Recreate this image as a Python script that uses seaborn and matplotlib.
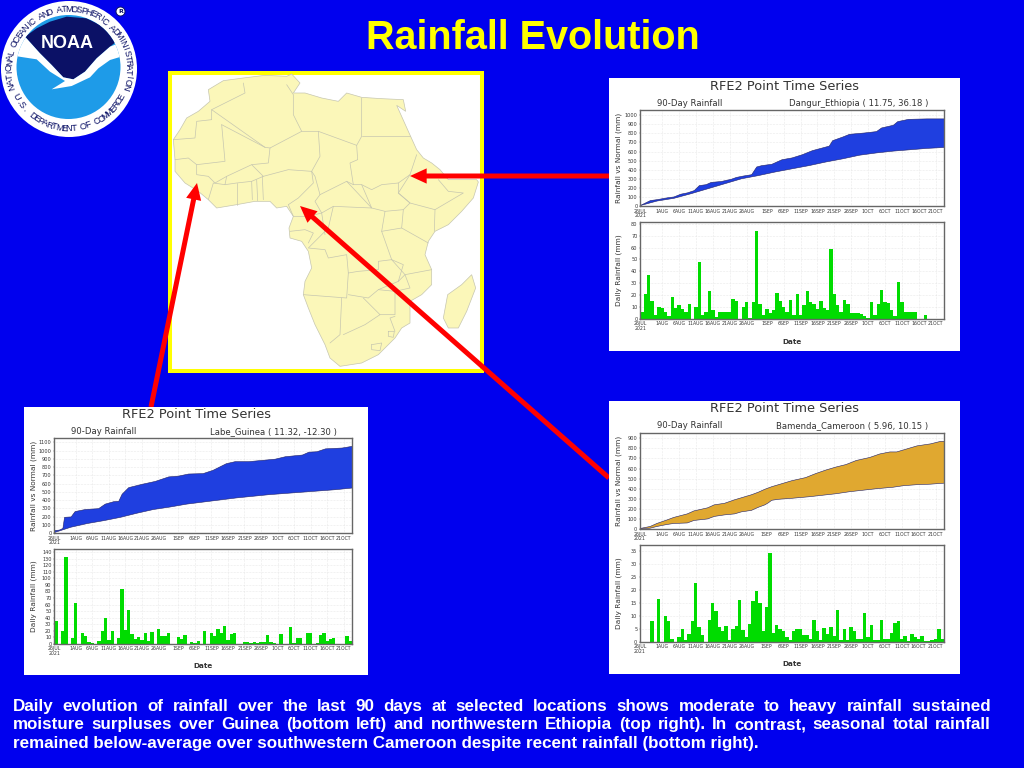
import numpy as np
import matplotlib
matplotlib.use('Agg')
import matplotlib.pyplot as plt
from matplotlib.patches import Circle, Polygon, Rectangle
import seaborn as sns

# daily rainfall, 26 Jul - 23 Oct 2021
eth_daily = [6, 21, 37, 15, 3, 10, 9, 5.5, 2, 18, 9, 11.5, 8, 5.5, 12, 0, 10, 48, 3, 5.5,
             23, 7, 1.5, 5.5, 5.5, 5.5, 5.5, 16.5, 15, 0, 9.5, 14, 1, 14, 74, 12.5, 3, 8, 4.5, 7.5,
             21.5, 15, 10, 6, 16, 3, 21, 3.5, 11.5, 23, 14, 12, 8, 15, 9, 7, 59, 21, 11.5, 5.5,
             16, 12, 5, 4.5, 4.5, 4, 2, 1, 14, 3.5, 12.5, 24.5, 14, 13, 7.5, 2, 31, 14, 6, 6,
             6, 6, 0, 0, 3, 0, 0, 0, 0, 0]
gui_daily = [35, 0, 20, 132, 0, 8, 63, 0, 17, 12, 2, 1, 0, 4, 19, 40, 5, 19, 0, 8,
             83, 21, 52, 15, 7, 11, 6, 16, 4, 18, 0, 22, 12, 12, 17, 0, 0, 11, 7, 13,
             0, 2, 1, 4, 0, 19, 0, 16, 12, 22, 17, 27, 6, 15, 16, 0, 0, 2, 3, 1,
             3, 1, 2, 2, 14, 3, 1, 0, 15, 0, 0, 25, 1, 8, 8, 0, 16, 17, 0, 1,
             14, 17, 4, 7, 8, 0, 0, 0, 12, 4]
cam_daily = [0, 0, 0, 7.8, 0, 16.5, 0, 10, 8, 1, 0, 2, 5, 0.5, 3, 8, 22.7, 5.5, 2.7, 0,
             8.5, 15, 12, 5.5, 4, 6, 0.5, 5, 6.2, 16, 4.5, 2, 6.8, 15.8, 19.5, 15, 4, 13.2, 34, 3.3,
             6.3, 5, 4.3, 2, 0.5, 4.3, 4.7, 5, 2.7, 2.7, 1, 8.5, 4.2, 0.5, 5.2, 3, 5.8, 2.3, 12.2, 0.5,
             5, 0.5, 5.8, 4.2, 1, 1, 11.2, 2, 6.5, 0.5, 0.5, 8.5, 1, 1, 3.2, 7.2, 7.8, 1, 2.2, 0.3,
             3, 2, 1, 2.2, 0.3, 0.3, 0.5, 1, 5, 1]

# accumulated rainfall and normal, read at the days where the curves bend
eth_rain_x = [0, 3, 5, 8, 10, 12, 14, 16, 17.5, 19.5, 21, 24, 27, 28.5, 30.5, 33, 34.5, 36, 39, 42, 45,
              48, 51, 54, 56, 57, 60, 62, 66.5, 70, 71.5, 75, 76.3, 79.5, 85, 90]
eth_rain_y = [5, 60, 70, 90, 100, 130, 145, 170, 225, 235, 260, 270, 295, 315, 330, 345, 430, 445, 460, 510, 530,
              565, 610, 640, 660, 720, 760, 790, 805, 820, 860, 890, 930, 955, 960, 960]
eth_norm_x = [0, 5, 10, 15, 20, 25, 30, 35, 40, 45, 50, 55, 60, 65, 70, 75, 80, 85, 90]
eth_norm_y = [5, 55, 85, 135, 190, 245, 300, 335, 375, 410, 445, 485, 520, 560, 585, 605, 620, 635, 645]

gui_rain_x = [0, 1.5, 2.6, 3.1, 5.1, 6.3, 9.4, 13.4, 15.4, 18, 19.5, 20.5, 22.5, 26.5, 30.5, 34.6, 37.6, 40.6, 45,
              48, 52, 54.7, 58.8, 62.8, 66.8, 69.9, 75, 77, 79.4, 82, 87, 90]
gui_rain_y = [30, 35, 55, 190, 195, 260, 285, 295, 350, 380, 385, 470, 550, 590, 625, 680, 690, 715, 720,
              760, 840, 865, 865, 880, 895, 925, 945, 980, 985, 1020, 1030, 1050]
gui_norm_x = [0, 5, 10, 15, 20, 25, 30, 35, 40, 45, 50, 55, 60, 65, 70, 75, 80, 85, 90]
gui_norm_y = [5, 70, 115, 150, 190, 240, 285, 315, 350, 375, 400, 425, 445, 465, 480, 495, 510, 525, 545]

cam_rain_x = [0, 3, 5, 8, 10, 14, 16, 20, 22, 25, 28, 30, 33, 35, 37, 39, 42, 45, 49, 52, 55, 58, 61, 64, 68,
              71, 74, 76, 79, 82, 86, 89, 90]
cam_rain_y = [5, 25, 55, 90, 115, 150, 180, 210, 240, 255, 290, 310, 340, 365, 395, 420, 450, 480, 510, 550, 585,
              615, 640, 680, 710, 745, 765, 765, 795, 825, 845, 870, 870]
cam_norm_x = [0, 3, 5, 8, 10, 14, 16, 20, 22, 25, 28, 30, 33, 35, 37, 38, 39, 41, 45, 50, 54, 58, 62, 66, 70,
              75, 78, 82, 86, 90]
cam_norm_y = [2, 8, 25, 45, 55, 60, 85, 100, 125, 140, 150, 170, 185, 215, 240, 260, 285, 295, 305, 320, 335,
              350, 370, 385, 400, 415, 430, 440, 445, 455]

tick_days = [0, 6, 11, 16, 21, 26, 31, 37, 42, 47, 52, 57, 62, 67, 72, 77, 82, 87]
tick_names = ['26JUL\n2021', '1AUG', '6AUG', '11AUG', '16AUG', '21AUG', '26AUG', '1SEP', '6SEP', '11SEP',
              '16SEP', '21SEP', '26SEP', '1OCT', '6OCT', '11OCT', '16OCT', '21OCT']

footer_lines = ['Daily evolution of rainfall over the last 90 days at selected locations shows moderate to heavy rainfall sustained',
                'moisture surpluses over Guinea (bottom left) and northwestern Ethiopia (top right). In contrast, seasonal total rainfall',
                'remained below-average over southwestern Cameroon despite recent rainfall (bottom right).']

# map shapes, in 3x pixels of the map frame
africa = [(175, 38), (235, 30), (300, 22), (365, 25), (380, 18), (405, 45), (385, 75), (420, 75), (470, 90), (520, 100),
          (545, 75), (590, 88), (650, 92), (715, 95), (722, 130), (695, 112), (730, 190), (755, 245), (775, 270),
          (800, 285), (825, 305), (850, 335), (935, 335), (940, 342), (925, 390), (890, 430), (850, 470), (810, 490),
          (790, 520), (780, 560), (800, 605), (800, 650), (770, 680), (735, 700), (735, 765), (710, 780), (690, 810),
          (640, 860), (590, 885), (525, 895), (495, 870), (480, 830), (450, 770), (430, 720), (415, 680), (420, 640),
          (440, 600), (430, 550), (410, 520), (375, 510), (372, 480), (385, 445), (365, 415), (335, 420), (315, 400),
          (270, 400), (215, 410), (155, 420), (130, 395), (100, 370), (60, 345), (30, 310), (30, 275), (25, 215),
          (45, 185), (65, 150), (100, 130), (135, 100), (130, 65)]
madagascar = [(920, 620), (932, 660), (905, 730), (880, 780), (850, 780), (835, 750), (848, 680), (890, 650)]
borders = [
    [(235, 45), (240, 75), (140, 125), (140, 155)],
    [(140, 125), (300, 238), (315, 240), (410, 190), (385, 140), (385, 80), (365, 50)],
    [(410, 190), (460, 190), (575, 232), (590, 205), (590, 90)],
    [(590, 205), (735, 205)],
    [(575, 232), (578, 275), (555, 285), (565, 350), (590, 350), (620, 365), (650, 350), (700, 345), (735, 320), (755, 260)],
    [(460, 190), (465, 265), (440, 310), (450, 325), (465, 380), (545, 340), (565, 350)],
    [(315, 240), (310, 285), (260, 290), (295, 325), (370, 305), (440, 310)],
    [(25, 215), (90, 210), (95, 160), (140, 155)],
    [(170, 170), (180, 280), (95, 290), (70, 270), (30, 275)],
    [(170, 170), (300, 238)],
    [(260, 290), (185, 325), (150, 345), (130, 325), (95, 320), (95, 290)],
    [(185, 325), (180, 350), (145, 345), (130, 395)],
    [(180, 350), (215, 345), (260, 340), (295, 325)],
    [(215, 345), (215, 410)], [(260, 340), (262, 395)], [(275, 335), (278, 398)], [(292, 325), (295, 395)],
    [(440, 310), (445, 345), (400, 390), (370, 410)],
    [(370, 410), (385, 445), (430, 445), (470, 435), (450, 400), (465, 380)],
    [(545, 340), (620, 420), (505, 415), (470, 435)],
    [(590, 350), (620, 420), (660, 430), (715, 425), (735, 405), (700, 375), (700, 345)],
    [(735, 320), (700, 375), (735, 405), (810, 425), (895, 375), (850, 370), (820, 335)],
    [(810, 425), (808, 490)],
    [(715, 425), (710, 480), (790, 525)],
    [(505, 415), (490, 480), (430, 540), (480, 545), (490, 570), (545, 560), (550, 615), (580, 610), (640, 605), (640, 580), (680, 575), (650, 490), (660, 430)],
    [(470, 435), (480, 500)],
    [(375, 490), (420, 485), (445, 495), (430, 525)],
    [(415, 680), (545, 690), (550, 615)],
    [(550, 680), (610, 690), (640, 665), (700, 640), (715, 590), (680, 575)],
    [(650, 490), (710, 480)],
    [(800, 605), (720, 620), (680, 575)],
    [(530, 690), (525, 800), (495, 825)],
    [(595, 690), (645, 740), (600, 770), (535, 800)],
    [(640, 665), (690, 670), (690, 740), (645, 740)],
    [(700, 640), (720, 620), (735, 660), (690, 670)],
    [(690, 745), (675, 750), (690, 790)],
    [(620, 830), (650, 825), (645, 848), (620, 845), (620, 830)],
    [(670, 790), (688, 790), (685, 808), (670, 805), (670, 790)],
]

# logo shapes, in 3x pixels
navy_shape = [(75, 110), (110, 85), (150, 65), (200, 50), (260, 55), (320, 85), (355, 120), (330, 140), (290, 175),
              (255, 215), (220, 238), (190, 232), (155, 195), (120, 160)]
gull_shape = [(30, 150), (75, 110), (120, 160), (155, 195), (190, 232), (220, 238), (255, 215), (290, 175), (330, 140),
              (380, 120), (380, 165), (330, 180), (295, 205), (270, 232), (215, 258), (155, 268), (195, 243),
              (150, 215), (110, 178), (45, 168)]

BLUE_BG = '#0000EE'
W, H = 1024, 768

sns.set_style('white')
plt.rcParams['font.family'] = ['DejaVu Sans']

fig = plt.figure(figsize=(W / 100, H / 100), dpi=100, facecolor=BLUE_BG)
bg = fig.add_axes([0, 0, 1, 1], zorder=0)
bg.set_xlim(0, W)
bg.set_ylim(H, 0)
bg.axis('off')


def map_pt(p):
    return (165 + p[0] / 3, 68 + p[1] / 3)


def logo_pt(p):
    return (p[0] / 3, p[1] / 3)


# title
bg.text(533, 38, 'Rainfall Evolution', color='#FFFF00', fontsize=28.5, fontweight='bold',
        family='Liberation Sans', ha='center', va='center')

# NOAA logo
bg.add_patch(Circle((69, 69), 68, fc='white', ec='none'))
inner = Circle((68.5, 67), 52, fc='#1E9BE8', ec='none')
bg.add_patch(inner)
navy = Polygon([logo_pt(p) for p in navy_shape], fc='#0B1166', ec='none')
bg.add_patch(navy)
navy.set_clip_path(inner)
gull = Polygon([logo_pt(p) for p in gull_shape], fc='white', ec='none')
bg.add_patch(gull)
gull.set_clip_path(inner)
bg.text(67, 43, 'NOAA', color='white', fontsize=13, fontweight='bold', family='Liberation Sans',
        ha='center', va='center')


def ring_text(s, a0, a1, bottom=False):
    for ch, a in zip(s, np.linspace(a0, a1, len(s))):
        r = np.radians(a)
        rot = a + 90 if bottom else a - 90
        bg.text(69 + 59.5 * np.cos(r), 69 - 59.5 * np.sin(r), ch, color='#0B1166', fontsize=6.5,
                family='Liberation Sans', rotation=rot, rotation_mode='anchor', ha='center', va='center')


ring_text('NATIONAL OCEANIC AND ATMOSPHERIC ADMINISTRATION', 197, -17)
ring_text('U.S. DEPARTMENT OF COMMERCE', 208, 332, bottom=True)
bg.add_patch(Circle((120.5, 11.5), 4.5, fc='white', ec='#0B1166', lw=0.7))
bg.text(120.5, 11.5, 'R', color='#0B1166', fontsize=4.5, fontweight='bold', ha='center', va='center')

# map
bg.add_patch(Rectangle((170, 73), 312, 298, fc='white', ec='#FFFF00', lw=2.9))
bg.add_patch(Polygon([map_pt(p) for p in africa], fc='#FBF7B9', ec='#C6C6B0', lw=0.5))
bg.add_patch(Polygon([map_pt(p) for p in madagascar], fc='#FBF7B9', ec='#C6C6B0', lw=0.5))
for line in borders:
    bg.plot(*zip(*[map_pt(p) for p in line]), color='#C6C6B0', lw=0.5)

# arrows
for tail, tip in [((609, 176), (410, 176)), ((609, 478), (300, 206)), ((151, 407), (197, 183))]:
    bg.annotate('', xy=tip, xytext=tail,
                arrowprops=dict(facecolor='#FF0000', edgecolor='none', width=3.6, headwidth=11, headlength=12, shrink=0))


def px_axes(left, top, right, bottom):
    return fig.add_axes([left / W, 1 - bottom / H, (right - left) / W, (bottom - top) / H], zorder=2)


def style_axes(ax, yticks, ytop):
    ax.set_xlim(0, 90)
    ax.set_ylim(0, ytop)
    ax.set_xticks([d + 0.5 if d else 0 for d in tick_days])
    ax.set_xticklabels(tick_names, fontsize=3.3, linespacing=0.85, color='#333333')
    ax.set_yticks(yticks)
    ax.set_yticklabels([str(v) for v in yticks], fontsize=3.6, color='#333333')
    ax.tick_params(length=1, width=0.3, pad=1, color='#666666', bottom=True, left=True)
    ax.grid(True, color='#D8D8D8', ls=':', lw=0.4)
    ax.set_axisbelow(True)
    ax.set_xlabel('')
    ax.set_ylabel('')
    for sp in ax.spines.values():
        sp.set_visible(True)
        sp.set_color('#666666')
        sp.set_linewidth(1)


def draw_panel(box, top_y, bot_y, left, right, site, site_right, daily,
               rain_x, rain_y, norm_x, norm_y, band, top_ticks, top_lim, bot_ticks, bot_lim):
    x0, y0, x1, y1 = box
    bg.add_patch(Rectangle((x0, y0), x1 - x0, y1 - y0, fc='white', ec='none', zorder=5))

    ax = px_axes(left, top_y[0], right, top_y[1])
    ax.fill(list(rain_x) + list(norm_x)[::-1], list(rain_y) + list(norm_y)[::-1], color=band, lw=0)
    sns.lineplot(x=rain_x, y=rain_y, ax=ax, color='#222266', linewidth=0.4, errorbar=None)
    sns.lineplot(x=norm_x, y=norm_y, ax=ax, color='#222266', linewidth=0.4, errorbar=None)
    style_axes(ax, top_ticks, top_lim)

    ax2 = px_axes(left, bot_y[0], right, bot_y[1])
    days = np.arange(len(daily)) + 0.5
    sns.barplot(x=days, y=daily, ax=ax2, color='#00DC00', saturation=1, width=1, native_scale=True, linewidth=0)
    style_axes(ax2, bot_ticks, bot_lim)

    xmid = (x0 + x1) / 2
    txt = dict(color='#333333', zorder=6, va='center', family='DejaVu Sans')
    bg.text(xmid, y0 + 8, 'RFE2 Point Time Series', fontsize=9.3, ha='center', **txt)
    bg.text(left + 17, top_y[0] - 7, '90-Day Rainfall', fontsize=6.1, ha='left', **txt)
    bg.text(site_right, top_y[0] - 7, site, fontsize=6.1, ha='right', **txt)
    bg.text(x0 + 9.5, sum(top_y) / 2, 'Rainfall vs Normal (mm)', fontsize=5.3, rotation=90, ha='center', **txt)
    bg.text(x0 + 9.5, sum(bot_y) / 2, 'Daily Rainfall (mm)', fontsize=5.3, rotation=90, ha='center', **txt)
    bg.text((left + right) / 2, y1 - 9.5, 'Date', fontsize=5.2, fontweight='bold', ha='center', **txt)


draw_panel((609, 78, 960, 351), (110, 206), (222, 318.7), 640.3, 944, 'Dangur_Ethiopia ( 11.75, 36.18 )', 928,
           eth_daily, eth_rain_x, eth_rain_y, eth_norm_x, eth_norm_y, '#1F3FE0',
           list(range(0, 1001, 100)), 1058, list(range(0, 81, 10)), 81.5)
draw_panel((24, 407, 368, 675), (438.3, 533), (549, 643.7), 54.3, 352, 'Labe_Guinea ( 11.32, -12.30 )', 337,
           gui_daily, gui_rain_x, gui_rain_y, gui_norm_x, gui_norm_y, '#1F3FE0',
           list(range(0, 1101, 100)), 1148, list(range(0, 141, 10)), 145)
draw_panel((609, 401, 960, 674), (433, 529), (545, 641.7), 640, 944, 'Bamenda_Cameroon ( 5.96, 10.15 )', 928,
           cam_daily, cam_rain_x, cam_rain_y, cam_norm_x, cam_norm_y, '#E0A830',
           list(range(0, 901, 100)), 953, list(range(0, 36, 5)), 37.2)

# footer, first two lines justified to the full width
renderer = fig.canvas.get_renderer()
font = dict(color='white', fontsize=12.25, fontweight='bold', family='Liberation Sans', va='baseline', ha='left')
for line, y, justify in zip(footer_lines, [711, 729, 748], [True, True, False]):
    if not justify:
        bg.text(13, y, line, **font)
        continue
    words = line.split(' ')
    items = [bg.text(0, y, w, **font) for w in words]
    widths = [t.get_window_extent(renderer).width for t in items]
    gap = (991 - 13 - sum(widths)) / (len(words) - 1)
    x = 13
    for t, w in zip(items, widths):
        t.set_x(x)
        x += w + gap

fig.savefig('out.png', dpi=100, facecolor=BLUE_BG)
